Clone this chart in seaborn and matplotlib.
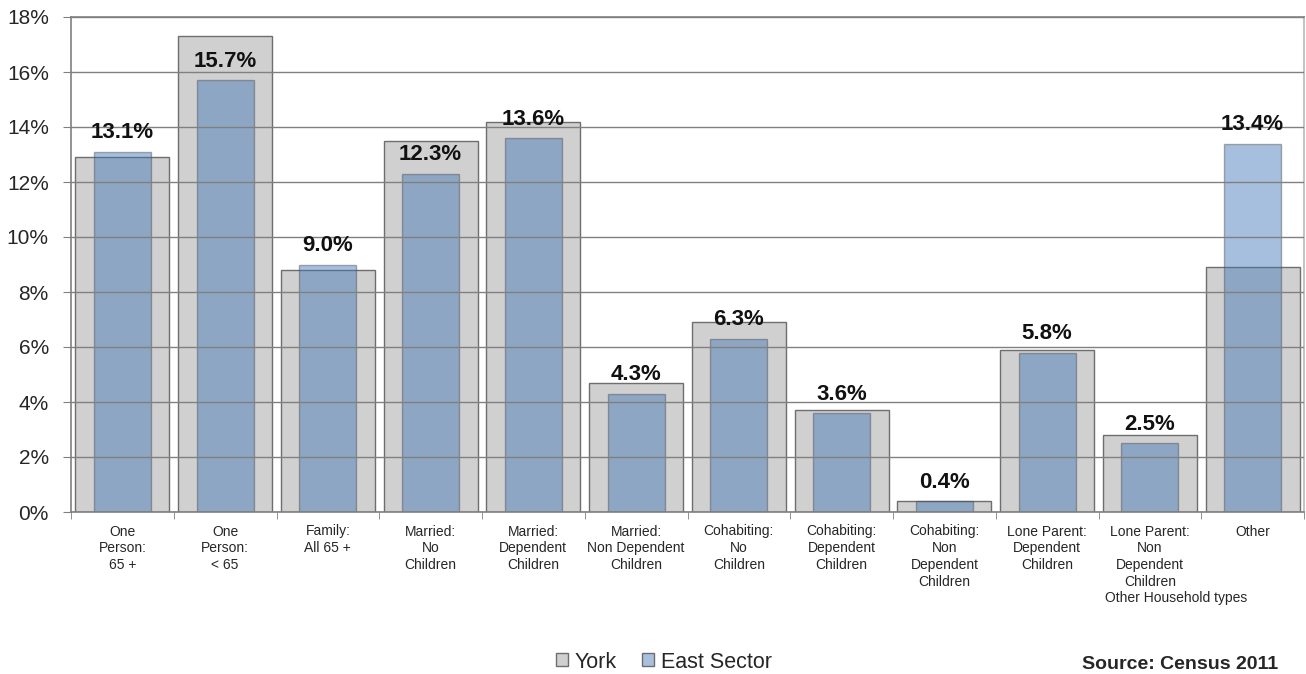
import matplotlib
matplotlib.use("Agg")
import matplotlib.pyplot as plt
from matplotlib.patches import Patch
from matplotlib.ticker import FixedLocator
import seaborn as sns
import pandas as pd

categories = ["One\nPerson:\n65 +", "One\nPerson:\n< 65", "Family:\nAll 65 +",
              "Married:\nNo\nChildren", "Married:\nDependent\nChildren",
              "Married:\nNon Dependent\nChildren", "Cohabiting:\nNo\nChildren",
              "Cohabiting:\nDependent\nChildren", "Cohabiting:\nNon\nDependent\nChildren",
              "Lone Parent:\nDependent\nChildren", "Lone Parent:\nNon\nDependent\nChildren",
              "Other"]
york = [12.9, 17.3, 8.8, 13.5, 14.2, 4.7, 6.9, 3.7, 0.4, 5.9, 2.8, 8.9]
east = [13.1, 15.7, 9.0, 12.3, 13.6, 4.3, 6.3, 3.6, 0.4, 5.8, 2.5, 13.4]
yticks = [0, 2, 4, 6, 8, 10, 12, 14, 16, 18]

sns.set_style("white")
plt.rcParams["font.family"] = ["Liberation Sans", "DejaVu Sans"]

df = pd.DataFrame({"cat": categories, "York": york, "East": east})

fig = plt.figure(figsize=(13.06, 6.74), dpi=100)
ax = fig.add_axes([71 / 1306, 1 - 512 / 674, 1233 / 1306, 495 / 674])

sns.barplot(data=df, x="cat", y="York", color="#d0d0d0", saturation=1, width=0.915,
            edgecolor="#6e6e6e", linewidth=1, ax=ax, zorder=1)
sns.barplot(data=df, x="cat", y="East", color="#3c73b6", saturation=1, width=0.555,
            edgecolor="#5a5a5a", linewidth=1, alpha=0.45, ax=ax, zorder=2)
for p in ax.patches[len(categories):]:
    p.set_edgecolor((0.3, 0.3, 0.3, 0.9))

for i, v in enumerate(east):
    ax.annotate(f"{v:.1f}%", xy=(i, v), xytext=(0, 6), textcoords="offset points",
                ha="center", va="bottom", fontsize=16, fontweight="bold", color="#111111")

ax.set_ylim(0, 18)
ax.set_xlim(-0.5, len(categories) - 0.5)
ax.set_yticks(yticks)
ax.set_yticklabels([f"{t}%" for t in yticks], fontsize=15)
ax.yaxis.grid(True, color="#808080", linewidth=1, zorder=5)
ax.set_axisbelow(False)
ax.set_xlabel("")
ax.set_ylabel("")
ax.tick_params(axis="x", length=0, labelsize=10, pad=9)
for lbl in ax.get_xticklabels():
    lbl.set_linespacing(1.25)
ax.xaxis.set_minor_locator(FixedLocator([i + 0.5 for i in range(-1, len(categories))]))
ax.tick_params(axis="x", which="minor", length=5, color="#808080", direction="out", bottom=True)
ax.tick_params(axis="y", length=6, color="#808080", direction="out", left=True, pad=10)
for s in ["left", "bottom", "top"]:
    ax.spines[s].set_color("#808080")
    ax.spines[s].set_linewidth(1.2)
ax.spines["right"].set_color("#c4c4c4")
ax.spines["right"].set_linewidth(1.5)

fig.text(1176 / 1306, 1 - 598 / 674, "Other Household types", ha="center", va="center", fontsize=10)

handles = [Patch(facecolor="#d0d0d0", edgecolor="#6e6e6e", label="York"),
           Patch(facecolor="#a8c0de", edgecolor="#6e6e6e", label="East Sector")]
fig.legend(handles=handles, loc="center", bbox_to_anchor=(664 / 1306, 1 - 662 / 674), ncol=2,
           frameon=False, fontsize=15.5, handlelength=0.55, handleheight=0.55, handletextpad=0.3,
           columnspacing=1.2, borderpad=0)

fig.text(1082 / 1306, 1 - 656 / 674, "Source: Census 2011", ha="left", va="top",
         fontsize=14, fontweight="bold")

fig.savefig("out.png", dpi=100)
